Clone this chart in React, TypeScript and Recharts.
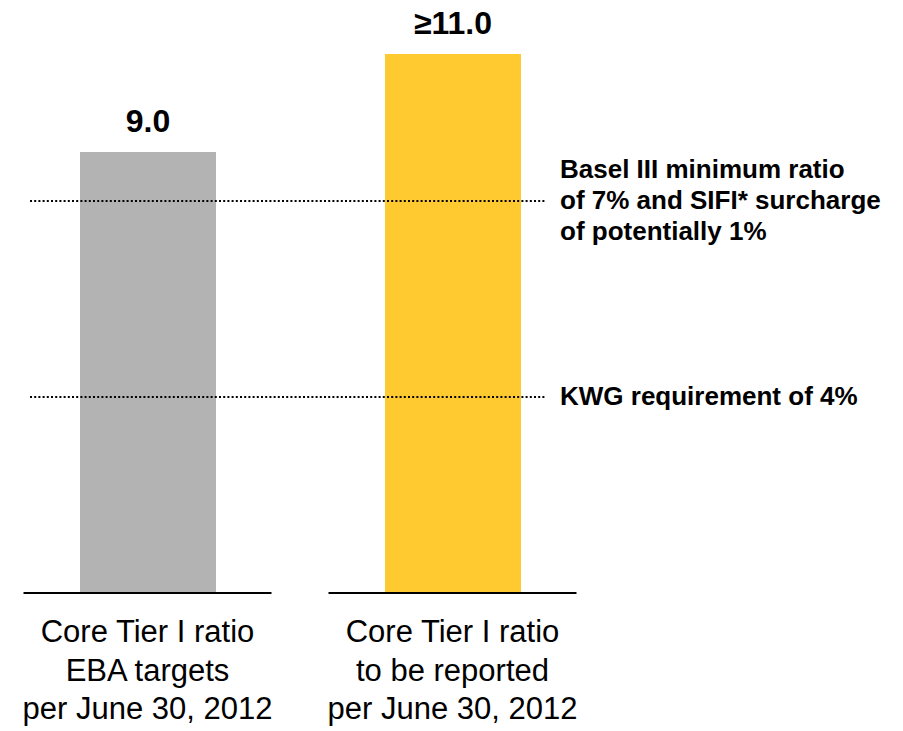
import { Bar, BarChart, Cell, LabelList, ReferenceLine, XAxis, YAxis } from "recharts";

const categories = [
  ["Core Tier I ratio", "EBA targets", "per June 30, 2012"],
  ["Core Tier I ratio", "to be reported", "per June 30, 2012"],
];
const ratios = [9.0, 11.0];
const ratioPrefixes = ["", "≥"];
const barColors = ["#b3b3b3", "#ffca2f"];

const thresholds = [8, 4];
const thresholdNotes = [
  ["Basel III minimum ratio", "of 7% and SIFI* surcharge", "of potentially 1%"],
  ["KWG requirement of 4%"],
];

const FONT = "'Liberation Sans', Arial, sans-serif";

const data = categories.map((lines, i) => ({
  name: lines.join("\n"),
  ratio: ratios[i],
}));

function CategoryTick({ x, y, payload }: any) {
  const lines = String(payload.value).split("\n");
  return (
    <g>
      <line x1={x - 124} x2={x + 124} y1={y} y2={y} stroke="#000" strokeWidth={2} />
      <text x={x} textAnchor="middle" fontSize={31} fill="#000" fontFamily={FONT}>
        {lines.map((l, i) => (
          <tspan key={i} x={x} y={y + 49 + i * 38.5}>
            {l}
          </tspan>
        ))}
      </text>
    </g>
  );
}

function ThresholdLine({ x1, y1, notes }: any) {
  const n = notes.length;
  return (
    <g>
      <line
        x1={x1 + 35}
        x2={x1 + 550}
        y1={y1}
        y2={y1}
        stroke="#000"
        strokeWidth={2}
        strokeDasharray="2 2.2"
      />
      <text fontSize={26} fontWeight="bold" fill="#000" fontFamily={FONT}>
        {notes.map((t: string, i: number) => (
          <tspan key={i} x={x1 + 565} y={y1 + 8 + (i - (n - 1) / 2) * 31}>
            {t}
          </tspan>
        ))}
      </text>
    </g>
  );
}

function RatioLabel({ x, y, width, value, index }: any) {
  return (
    <text
      x={x + width / 2}
      y={y - 20}
      textAnchor="middle"
      fontSize={32}
      fontWeight="bold"
      fill="#000"
      fontFamily={FONT}
    >
      {ratioPrefixes[index] + Number(value).toFixed(1)}
    </text>
  );
}

export default function App() {
  return (
    <div style={{ position: "absolute", left: -5, top: 0 }}>
      <BarChart
        width={905}
        height={730}
        data={data}
        margin={{ top: 5, right: 295, bottom: 0, left: 0 }}
        style={{ fontFamily: FONT }}
      >
        <XAxis
          dataKey="name"
          interval={0}
          axisLine={false}
          tickLine={false}
          tickSize={0}
          tickMargin={0}
          height={137}
          tick={<CategoryTick />}
        />
        <YAxis hide domain={[0, 12]} />
        {thresholds.map((t, i) => (
          <ReferenceLine
            key={t}
            y={t}
            shape={(p: any) => <ThresholdLine {...p} notes={thresholdNotes[i]} />}
          />
        ))}
        <Bar dataKey="ratio" barSize={136} isAnimationActive={false}>
          {data.map((_, i) => (
            <Cell key={i} fill={barColors[i]} />
          ))}
          <LabelList dataKey="ratio" content={<RatioLabel />} />
        </Bar>
      </BarChart>
    </div>
  );
}
